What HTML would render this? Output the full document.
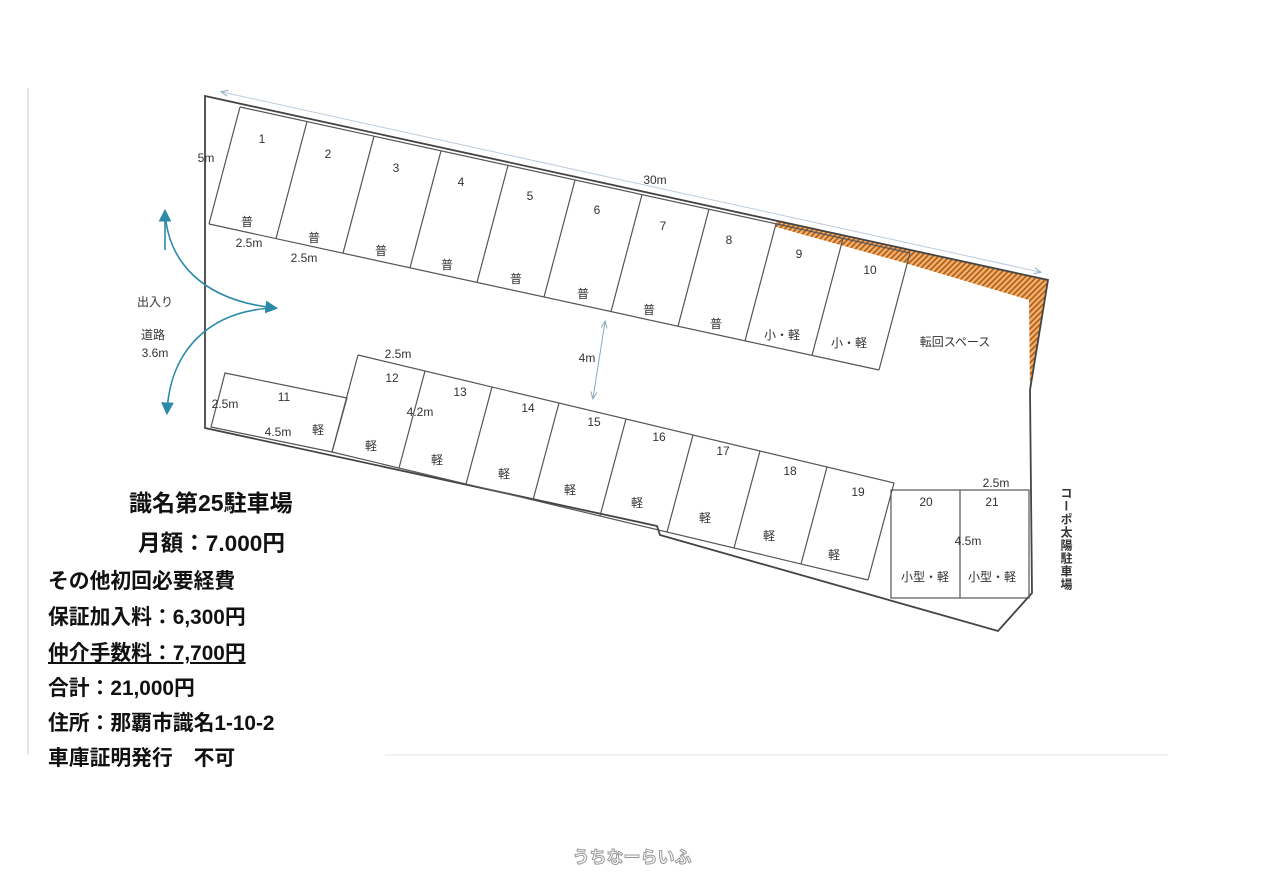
<!DOCTYPE html>
<html><head><meta charset="utf-8"><style>
body{margin:0;background:#fff;width:1262px;height:892px;overflow:hidden;position:relative;font-family:"Liberation Sans","Noto Sans CJK JP",sans-serif}
svg{position:absolute;left:0;top:0}
.t{position:absolute;font-weight:bold;font-size:20.8px;color:#111;white-space:nowrap;left:48px;line-height:24px}
</style></head><body>
<svg width="1262" height="892" viewBox="0 0 1262 892" font-family="Liberation Sans, Noto Sans CJK JP, sans-serif">
<defs>
<pattern id="h" width="4" height="4" patternUnits="userSpaceOnUse" patternTransform="rotate(45)">
<rect width="4" height="4" fill="#f0b070"/><rect width="1.6" height="4" fill="#b05a10"/></pattern>
<marker id="ab" markerWidth="8" markerHeight="8" refX="6" refY="4" orient="auto"><path d="M0,0 L8,4 L0,8 z" fill="#2a8aa8"/></marker>
<marker id="al" markerWidth="8" markerHeight="8" refX="6" refY="4" orient="auto-start-reverse"><path d="M0,1 L7,4 L0,7" fill="none" stroke="#8ab" stroke-width="1"/></marker>
</defs>
<line x1="28" y1="88" x2="28" y2="755" stroke="#ddd" stroke-width="1.5"/>
<line x1="385" y1="755" x2="1168" y2="755" stroke="#eee" stroke-width="1.5"/>
<polygon points="776,221 905,249 1048,279 1030,392 1029,300 905,263 776,227" fill="url(#h)"/>
<polyline points="1030,390 1032,593 998,631 660,535 657,526 205,428 205,96 1048,280 1030,390" fill="none" stroke="#444" stroke-width="1.8"/>
<line x1="222" y1="92" x2="1040" y2="272" stroke="#bcd" stroke-width="1" marker-start="url(#al)" marker-end="url(#al)"/>
<g stroke="#555" stroke-width="1.2" fill="none">
<polyline points="240,107 910,253"/>
<polyline points="209,224 879,370"/>
<line x1="240" y1="107" x2="209" y2="224"/><line x1="307" y1="121.6" x2="276" y2="238.6"/><line x1="374" y1="136.2" x2="343" y2="253.2"/><line x1="441" y1="150.8" x2="410" y2="267.8"/><line x1="508" y1="165.4" x2="477" y2="282.4"/><line x1="575" y1="180" x2="544" y2="297"/><line x1="642" y1="194.6" x2="611" y2="311.6"/><line x1="709" y1="209.2" x2="678" y2="326.2"/><line x1="776" y1="223.8" x2="745" y2="340.8"/><line x1="843" y1="238.4" x2="812" y2="355.4"/><line x1="910" y1="253" x2="879" y2="370"/>
<polygon points="225,373 347,398 332,452 211,427"/>
<polyline points="358,355 894,483"/>
<polyline points="332,452 868,580"/>
<line x1="358" y1="355" x2="332" y2="452"/><line x1="425" y1="371" x2="399" y2="468"/><line x1="492" y1="387" x2="466" y2="484"/><line x1="559" y1="403" x2="533" y2="500"/><line x1="626" y1="419" x2="600" y2="516"/><line x1="693" y1="435" x2="667" y2="532"/><line x1="760" y1="451" x2="734" y2="548"/><line x1="827" y1="467" x2="801" y2="564"/><line x1="894" y1="483" x2="868" y2="580"/>
<rect x="891" y="490" width="138" height="108"/><line x1="960" y1="490" x2="960" y2="598"/>
</g>
<g stroke="#2a8aa8" stroke-width="1.6" fill="none">
<path d="M165,212 C168,260 200,300 275,308" marker-end="url(#ab)"/>
<path d="M275,308 C210,310 170,350 167,412" marker-end="url(#ab)"/>
<path d="M165,250 L165,212" marker-end="url(#ab)"/>
</g>
<line x1="605" y1="322" x2="593" y2="398" stroke="#8ab" stroke-width="1" marker-start="url(#al)" marker-end="url(#al)"/>
<g font-size="12" fill="#333" text-anchor="middle">
<text x="262" y="143">1</text><text x="328" y="158">2</text><text x="396" y="172">3</text><text x="461" y="186">4</text><text x="530" y="200">5</text><text x="597" y="214">6</text><text x="663" y="230">7</text><text x="729" y="244">8</text><text x="799" y="258">9</text><text x="870" y="274">10</text>
<text x="247" y="226">普</text><text x="314" y="242">普</text><text x="381" y="255">普</text><text x="447" y="269">普</text><text x="516" y="283">普</text><text x="583" y="298">普</text><text x="649" y="314">普</text><text x="716" y="328">普</text>
<text x="782" y="339">小・軽</text><text x="849" y="347">小・軽</text><text x="955" y="346">転回スペース</text>
<text x="249" y="247">2.5m</text><text x="304" y="262">2.5m</text><text x="206" y="162">5m</text><text x="655" y="184">30m</text>
<text x="155" y="306">出入り</text><text x="153" y="339">道路</text><text x="155" y="357">3.6m</text><text x="587" y="362">4m</text>
<text x="398" y="358">2.5m</text><text x="392" y="382">12</text><text x="460" y="396">13</text><text x="528" y="412">14</text><text x="594" y="426">15</text><text x="659" y="441">16</text><text x="723" y="455">17</text><text x="790" y="475">18</text><text x="858" y="496">19</text><text x="926" y="506">20</text><text x="992" y="506">21</text>
<text x="284" y="401">11</text><text x="225" y="408">2.5m</text><text x="278" y="436">4.5m</text><text x="318" y="434">軽</text><text x="420" y="416">4.2m</text>
<text x="371" y="450">軽</text><text x="437" y="464">軽</text><text x="504" y="478">軽</text><text x="570" y="494">軽</text><text x="637" y="507">軽</text><text x="705" y="522">軽</text><text x="769" y="540">軽</text><text x="834" y="559">軽</text>
<text x="925" y="581">小型・軽</text><text x="992" y="581">小型・軽</text><text x="968" y="545">4.5m</text><text x="996" y="487">2.5m</text>
</g>
<text x="1066" y="487" font-size="12" font-weight="bold" fill="#333" writing-mode="tb" letter-spacing="1">コーポ太陽駐車場</text>
<text x="632" y="863" font-size="17" font-weight="bold" fill="#fff" stroke="#999" stroke-width="1" text-anchor="middle">うちなーらいふ</text>
</svg>
<div class="t" style="left:129px;top:491px;font-size:23px">識名第25駐車場</div>
<div class="t" style="left:138px;top:532px;font-size:22.6px">月額：7.000円</div>
<div class="t" style="top:570px">その他初回必要経費</div>
<div class="t" style="top:606px">保証加入料：6,300円</div>
<div class="t" style="top:642px;text-decoration:underline">仲介手数料：7,700円</div>
<div class="t" style="top:677px">合計：21,000円</div>
<div class="t" style="top:712px">住所：那覇市識名1-10-2</div>
<div class="t" style="top:747px">車庫証明発行　不可</div>
</body></html>
